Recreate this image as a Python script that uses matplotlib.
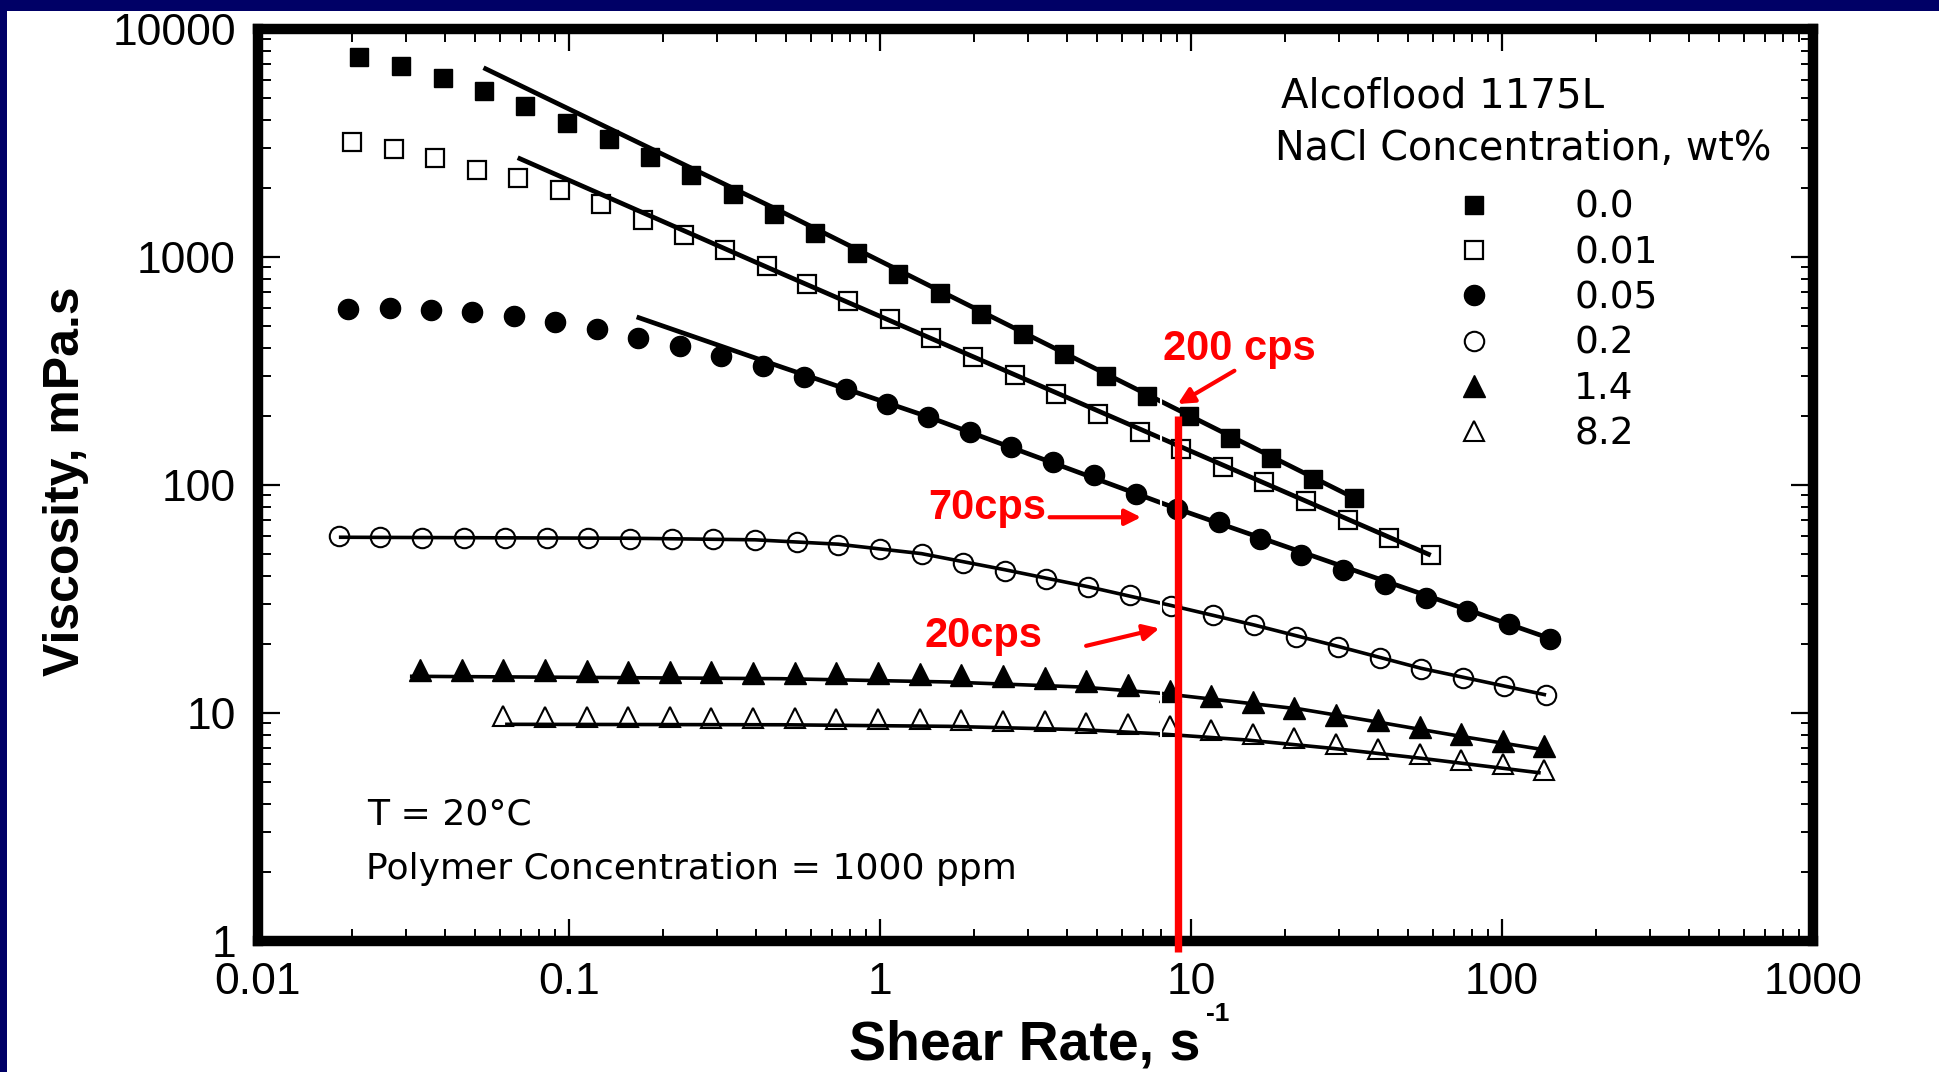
"""Alcoflood 1175L 粘度-剪切速率曲线重绘（不同 NaCl 浓度）。"""

import matplotlib

matplotlib.use("Agg")
import matplotlib.pyplot as plt
from matplotlib.lines import Line2D
from matplotlib.patches import Rectangle
from matplotlib.ticker import FixedLocator, FuncFormatter, LogLocator, NullFormatter

plt.rcParams["font.family"] = ["Liberation Sans", "DejaVu Sans"]

rate_00 = [0.0212, 0.0288, 0.0392, 0.0532, 0.0724, 0.0984, 0.134, 0.182, 0.247, 0.336, 0.456,
           0.619, 0.843, 1.146, 1.556, 2.115, 2.875, 3.91, 5.31, 7.22, 9.82, 13.3, 18.1, 24.7, 33.5]
visc_00 = [7540, 6860, 6100, 5350, 4610, 3880, 3285, 2754, 2282, 1884, 1549,
           1274, 1042, 845, 696, 564, 461, 374, 301, 245, 200, 161, 132, 106, 87.3]

rate_001 = [0.0201, 0.0274, 0.0372, 0.0506, 0.0687, 0.0933, 0.1268, 0.1725, 0.2344, 0.3185, 0.4327,
            0.5845, 0.790, 1.074, 1.462, 1.99, 2.71, 3.69, 5.02, 6.83, 9.29, 12.65, 17.2, 23.4,
            31.9, 43.4, 59.0]
visc_001 = [3194, 2968, 2718, 2415, 2214, 1961, 1713, 1458, 1245, 1070, 910,
            764, 641, 533, 443, 364, 303, 251.5, 205.5, 170.8, 144.3, 120, 103, 85.1,
            70.0, 58.7, 49.2]

rate_005 = [0.0195, 0.0265, 0.0360, 0.0489, 0.0665, 0.0903, 0.1228, 0.1668, 0.227, 0.308, 0.419,
            0.570, 0.775, 1.052, 1.43, 1.944, 2.64, 3.59, 4.88, 6.64, 9.02, 12.26, 16.67, 22.6,
            30.8, 41.9, 56.9, 77.4, 105.2, 143]
visc_005 = [593, 597, 584, 574, 551, 519, 482, 443, 406, 367, 332,
            298, 264.5, 227.3, 198.7, 170.8, 146.8, 126.2, 110.3, 91.6, 78.7, 68.8, 58.1, 49.2,
            42.5, 36.7, 31.9, 27.9, 24.6, 21.2]

rate_02 = [0.01816, 0.0247, 0.03365, 0.0458, 0.0623, 0.0849, 0.1155, 0.157, 0.2138, 0.291, 0.396,
           0.539, 0.734, 1.0, 1.36, 1.85, 2.52, 3.43, 4.67, 6.35, 8.65, 11.8, 16.0, 21.8,
           29.7, 40.4, 55.0, 74.8, 101.8, 138.6]
visc_02 = [59.6, 59.2, 58.6, 58.7, 58.7, 58.6, 58.6, 58.2, 58.2, 57.7, 57.4,
           56.2, 54.8, 52.4, 49.6, 45.5, 42.0, 38.8, 35.7, 32.8, 29.4, 26.8, 24.2, 21.5,
           19.5, 17.4, 15.6, 14.2, 13.1, 11.96]

rate_14 = [0.0332, 0.0452, 0.0615, 0.0837, 0.114, 0.155, 0.211, 0.287, 0.391, 0.532, 0.724,
           0.986, 1.343, 1.828, 2.488, 3.39, 4.61, 6.27, 8.54, 11.6, 15.8, 21.5, 29.3, 39.9,
           54.3, 73.9, 100.5, 136.8]
visc_14 = [15.49, 15.39, 15.39, 15.39, 15.24, 15.13, 15.13, 15.13, 15.02, 15.0, 14.97,
           14.95, 14.9, 14.75, 14.6, 14.31, 13.88, 13.27, 12.55, 11.87, 11.17, 10.52, 9.77, 9.29,
           8.68, 8.11, 7.54, 7.14]

rate_82 = [0.0615, 0.0837, 0.114, 0.155, 0.211, 0.287, 0.391, 0.532, 0.724,
           0.986, 1.343, 1.828, 2.488, 3.39, 4.61, 6.27, 8.54, 11.6, 15.8, 21.5, 29.3, 39.9,
           54.3, 73.9, 100.5, 136.8]
visc_82 = [9.67, 9.65, 9.60, 9.60, 9.56, 9.54, 9.49, 9.46, 9.44,
           9.41, 9.37, 9.32, 9.25, 9.18, 9.08, 8.95, 8.74, 8.42, 8.11, 7.79, 7.33, 6.97,
           6.63, 6.24, 5.96, 5.61]

# ---- 拟合曲线（原图实线上的若干点）----
fit_rate_00 = [0.0531, 0.4825, 33.65]
fit_visc_00 = [6762, 1580, 87.4]
fit_rate_001 = [0.0684, 0.4825, 59.0]
fit_visc_001 = [2726, 846, 49.2]
fit_rate_005 = [0.165, 0.4825, 1.43, 9.02, 143]
fit_visc_005 = [546, 329, 199, 78.7, 21.2]
fit_rate_02 = [0.0182, 0.157, 0.396, 0.734, 1.36, 2.52, 4.67, 8.65, 16.0, 29.7, 55.0, 138.6]
fit_visc_02 = [59.0, 58.4, 57.5, 55.0, 50.0, 42.5, 35.8, 29.6, 24.3, 19.6, 15.7, 12.0]
fit_rate_14 = [0.0308, 0.4825, 1.655, 4.436, 7.82, 22.6, 39.8, 73.7, 140]
fit_visc_14 = [14.49, 14.14, 13.68, 13.0, 12.24, 10.39, 9.13, 7.90, 6.86]
fit_rate_82 = [0.0623, 0.4825, 1.655, 4.436, 7.82, 15.0, 29.0, 55.0, 133.2]
fit_visc_82 = [8.92, 8.88, 8.74, 8.45, 8.11, 7.62, 6.98, 6.33, 5.46]

NACL_LABELS = ["0.0", "0.01", "0.05", "0.2", "1.4", "8.2"]
X_TICKS = [0.01, 0.1, 1, 10, 100, 1000]
Y_TICKS = [1, 10, 100, 1000, 10000]

# 红色标注：工作剪切速率与对应粘度
MARK_RATE = 9.07
MARK_VISC_TOP = 200

TEXT_FONT = ["DejaVu Sans"]
NAVY = "#000066"

MARKER_STYLES = [
    dict(marker="s", ms=13.5, mfc="black", mec="black", mew=1.0),
    dict(marker="s", ms=12.5, mfc="none", mec="black", mew=1.6),
    dict(marker="o", ms=14.5, mfc="black", mec="black", mew=1.0),
    dict(marker="o", ms=14.0, mfc="none", mec="black", mew=1.5),
    dict(marker="^", ms=15.5, mfc="black", mec="black", mew=1.0),
    dict(marker="^", ms=14.5, mfc="none", mec="black", mew=1.5),
]
LINE_WIDTHS = [3.4, 3.4, 3.4, 2.6, 2.6, 2.6]


def main():
    points = [
        (rate_00, visc_00), (rate_001, visc_001), (rate_005, visc_005),
        (rate_02, visc_02), (rate_14, visc_14), (rate_82, visc_82),
    ]
    fits = [
        (fit_rate_00, fit_visc_00), (fit_rate_001, fit_visc_001), (fit_rate_005, fit_visc_005),
        (fit_rate_02, fit_visc_02), (fit_rate_14, fit_visc_14), (fit_rate_82, fit_visc_82),
    ]

    fig = plt.figure(figsize=(19.4, 10.72), dpi=100, facecolor="white")
    # 幻灯片的深蓝边
    fig.patches.append(Rectangle((0, 1 - 11 / 1072), 1, 11 / 1072, transform=fig.transFigure,
                                 facecolor=NAVY, edgecolor="none", zorder=0))
    fig.patches.append(Rectangle((0, 0), 7 / 1940, 1, transform=fig.transFigure,
                                 facecolor=NAVY, edgecolor="none", zorder=0))

    ax = fig.add_axes([258 / 1940, 1 - 941 / 1072, 1555 / 1940, 912 / 1072])
    ax.set_xscale("log")
    ax.set_yscale("log")
    ax.set_xlim(0.01, 1000)
    ax.set_ylim(1, 10000)

    for (fx, fy), lw in zip(fits, LINE_WIDTHS):
        ax.plot(fx, fy, color="black", lw=lw, solid_capstyle="butt", zorder=3)
    for (px, py), style in zip(points, MARKER_STYLES):
        ax.plot(px, py, linestyle="none", zorder=4, **style)

    # 原图红线左侧的白色细缝
    ax.plot([8.02, 8.02], [240, 7.6], color="white", lw=1.5, zorder=5)

    ax.plot([MARK_RATE, MARK_RATE], [MARK_VISC_TOP, 0.895], color="red", lw=5.3,
            solid_capstyle="butt", clip_on=False, zorder=10)

    red_text = dict(color="red", fontsize=30, fontweight="bold", ha="left", va="baseline", zorder=11)
    arrow = dict(arrowstyle="-|>", color="red", lw=3.0, mutation_scale=24, shrinkA=0, shrinkB=0)
    ax.text(8.12, 353, "200 cps", **red_text)
    ax.annotate("", xy=(9.07, 226.6), xytext=(13.79, 317), arrowprops=arrow, zorder=11)
    ax.text(1.427, 70.7, "70cps", **red_text)
    ax.annotate("", xy=(6.91, 72.2), xytext=(3.51, 72.2), arrowprops=arrow, zorder=11)
    ax.text(1.389, 19.5, "20cps", **red_text)
    ax.annotate("", xy=(7.91, 23.5), xytext=(4.60, 19.7), arrowprops=arrow, zorder=11)

    # 图内说明文字
    ax.text(19.5, 4517, "Alcoflood 1175L", family=TEXT_FONT, fontsize=29, va="baseline")
    ax.text(18.6, 2656, "NaCl Concentration, wt%", family=TEXT_FONT, fontsize=28.5, va="baseline")
    ax.text(0.0224, 3.23, "T = 20°C", family=TEXT_FONT, fontsize=26, va="baseline")
    ax.text(0.0223, 1.876, "Polymer Concentration = 1000 ppm", family=TEXT_FONT, fontsize=26,
            va="baseline")

    handles = [Line2D([], [], linestyle="none", **style) for style in MARKER_STYLES]
    ax.legend(handles, NACL_LABELS, loc="upper left", bbox_to_anchor=(0.7627, 0.8238),
              frameon=False, prop={"family": TEXT_FONT, "size": 27}, handlelength=1.6,
              handletextpad=1.87, labelspacing=0.25, borderpad=0, borderaxespad=0)

    # 坐标轴和刻度
    for spine in ax.spines.values():
        spine.set_linewidth(7.5)
    ax.xaxis.set_major_locator(FixedLocator(X_TICKS))
    ax.yaxis.set_major_locator(FixedLocator(Y_TICKS))
    ax.xaxis.set_minor_locator(LogLocator(base=10, subs=range(2, 10)))
    ax.yaxis.set_minor_locator(LogLocator(base=10, subs=range(2, 10)))
    ax.xaxis.set_minor_formatter(NullFormatter())
    ax.yaxis.set_minor_formatter(NullFormatter())
    fmt = FuncFormatter(lambda v, _: f"{v:g}")
    ax.xaxis.set_major_formatter(fmt)
    ax.yaxis.set_major_formatter(fmt)
    ax.tick_params(which="both", direction="in", top=True, right=True, labelsize=32)
    ax.tick_params(which="major", length=16, width=1.6)
    ax.tick_params(which="minor", length=9, width=1.4)
    ax.tick_params(axis="x", which="major", pad=15)
    ax.tick_params(axis="y", which="major", pad=16)

    # x 轴标题贴近图片底边，上标 "-1" 单独放在 "s" 右上方
    ax.set_xlabel("Shear Rate, s", fontsize=40, fontweight="bold")
    ax.xaxis.set_label_coords(1025 / 1940, 1 - 1059 / 1072, transform=fig.transFigure)
    ax.xaxis.label.set_verticalalignment("baseline")
    fig.text(1206 / 1940, 1 - 1021 / 1072, "-1", ha="left", va="baseline", fontsize=19,
             fontweight="bold")
    ax.set_ylabel("Viscosity, mPa.s", fontsize=36, fontweight="bold")
    ax.yaxis.set_label_coords(66 / 1940, 1 - 481 / 1072, transform=fig.transFigure)
    ax.yaxis.label.set_verticalalignment("center")

    fig.savefig("out.png", dpi=100, facecolor=fig.get_facecolor())
    plt.close(fig)


if __name__ == "__main__":
    main()
